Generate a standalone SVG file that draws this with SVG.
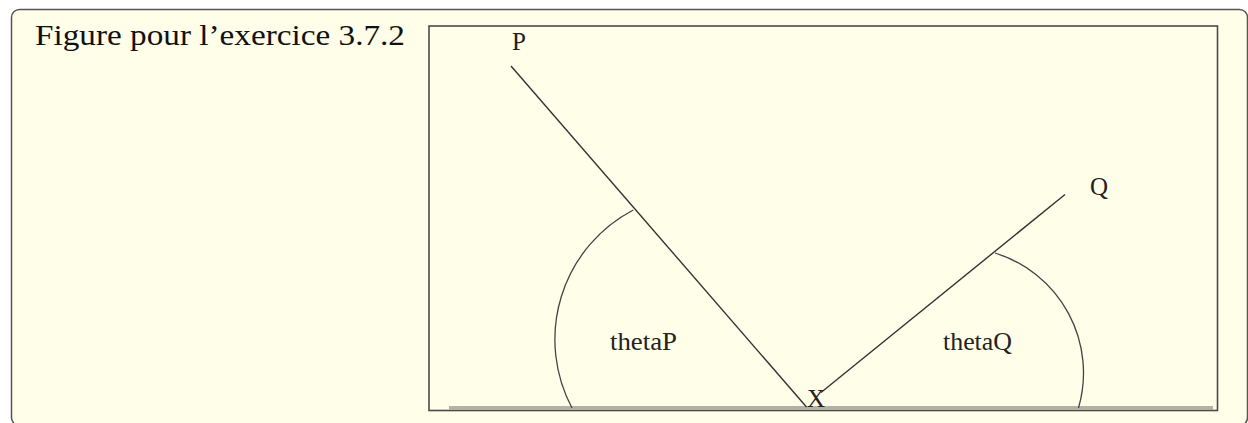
<svg xmlns="http://www.w3.org/2000/svg" width="1248" height="423" viewBox="0 0 1248 423">
<style>
.frame{fill:#fffee8;stroke:#555;stroke-width:1.5}
.box{fill:#fffee8;stroke:#4a4a4a;stroke-width:1.6}
.ln{fill:none;stroke:#333;stroke-width:1.4}
.arc{fill:none;stroke:#444;stroke-width:1.3}
.lbl{font-family:"Liberation Serif","Times New Roman",serif;font-size:25px;fill:#222}
.title{font-family:"Liberation Serif","Times New Roman",serif;font-size:29px;fill:#111}
</style>
<rect width="1248" height="423" fill="#ffffff"/>
<rect class="frame" x="11.5" y="9.5" width="1236" height="416" rx="8"/>
<text class="title" x="35" y="45" textLength="370" lengthAdjust="spacingAndGlyphs">Figure pour l’exercice 3.7.2</text>
<rect class="box" x="429" y="26" width="788.5" height="384.5"/>
<rect x="449" y="406" width="764" height="4" fill="#b2b2a2"/>
<g id="connectors">
<line class="ln" x1="511" y1="66" x2="806.5" y2="407"/>
<line class="ln" x1="1065" y1="194.5" x2="821" y2="392.5"/>
<path class="arc" d="M633.3,210 A146,146 0 0 0 572,408"/>
<path class="arc" d="M995,253 A125.5,125.5 0 0 1 1078.5,408"/>
</g>
<g id="P"><text class="lbl" x="512" y="50">P</text></g>
<g id="Q"><text class="lbl" x="1090" y="195">Q</text></g>
<g id="X"><text class="lbl" x="807" y="407">X</text></g>
<g id="thetaP"><text class="lbl" x="610" y="350" textLength="67" lengthAdjust="spacingAndGlyphs">thetaP</text></g>
<g id="thetaQ"><text class="lbl" x="943" y="350" textLength="69" lengthAdjust="spacingAndGlyphs">thetaQ</text></g>
</svg>
